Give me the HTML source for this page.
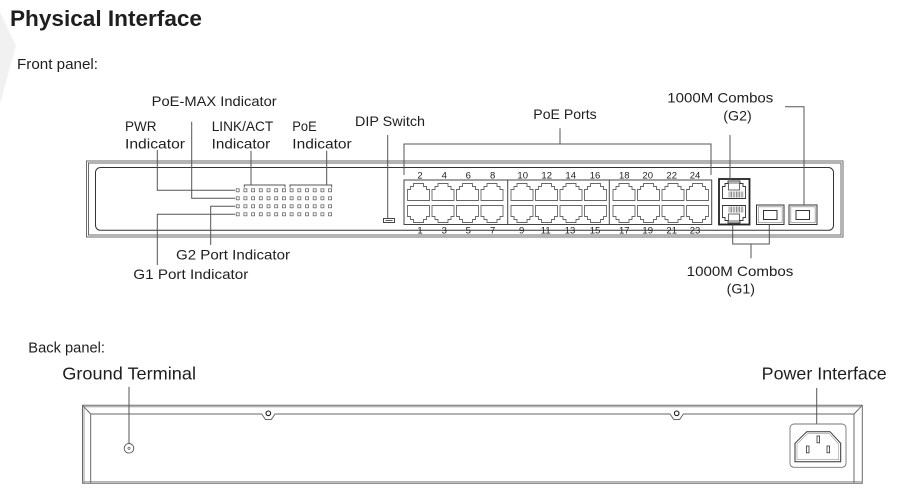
<!DOCTYPE html>
<html>
<head>
<meta charset="utf-8">
<style>
  html,body{margin:0;padding:0;background:#fff;}
  body{width:899px;height:491px;overflow:hidden;}
  svg{display:block;}
  .t{font-family:"Liberation Sans",Arial,sans-serif;fill:#1e1e1e;}
  .ln{stroke:#555;stroke-width:1;fill:none;}
  .ch{stroke:#6a6a6a;stroke-width:1;fill:none;}
</style>
</head>
<body>
<svg width="899" height="491" viewBox="0 0 899 491" xmlns="http://www.w3.org/2000/svg" xmlns:xlink="http://www.w3.org/1999/xlink">
  <defs>
    <g id="pt">
      <path d="M0.5,18.5 V7.5 H3.5 V4.5 H6.5 V1.5 H16.5 V4.5 H19.5 V7.5 H22.5 V18.5 Z" fill="#fff" stroke="#666" stroke-width="0.9"/>
    </g>
    <g id="pb">
      <path d="M0.5,0.5 H22.5 V11.5 H19.5 V14.5 H16.5 V17.5 H6.5 V14.5 H3.5 V11.5 H0.5 Z" fill="#fff" stroke="#666" stroke-width="0.9"/>
    </g>
    <g id="led">
      <rect x="-1.5" y="-1.5" width="3" height="3" fill="#fff" stroke="#666" stroke-width="0.8"/>
    </g>
    <pattern id="stripes" width="1.6" height="6" patternUnits="userSpaceOnUse">
      <rect x="0" y="0" width="0.8" height="6" fill="#777"/>
    </pattern>
  </defs>

  <!-- watermark -->
  <polygon points="0,12 16,46 7,78 0,104" fill="#f1f1f1"/>

  <!-- Title -->
  <text class="t" x="10" y="26" font-size="22.5" font-weight="bold" fill="#000" textLength="192" lengthAdjust="spacingAndGlyphs">Physical Interface</text>
  <text class="t" x="17" y="69" font-size="14.5" textLength="81" lengthAdjust="spacingAndGlyphs">Front panel:</text>

  <!-- ================= FRONT PANEL ================= -->
  <!-- chassis -->
  <rect class="ch" x="86.5" y="161" width="756.5" height="76"/>
  <rect class="ch" x="88.5" y="163" width="752.5" height="72" stroke="#999"/>
  <rect x="95.5" y="167.5" width="738" height="62.8" rx="5" ry="5" fill="none" stroke="#333" stroke-width="1"/>

  <!-- indicator labels -->
  <text class="t" x="151.7" y="106" font-size="14" textLength="125" lengthAdjust="spacingAndGlyphs">PoE-MAX Indicator</text>
  <text class="t" x="125" y="131" font-size="14" textLength="31.5" lengthAdjust="spacingAndGlyphs">PWR</text>
  <text class="t" x="125" y="148.5" font-size="14" textLength="60" lengthAdjust="spacingAndGlyphs">Indicator</text>
  <text class="t" x="211.7" y="131" font-size="14" textLength="61.6" lengthAdjust="spacingAndGlyphs">LINK/ACT</text>
  <text class="t" x="211.7" y="148.5" font-size="14" textLength="58.5" lengthAdjust="spacingAndGlyphs">Indicator</text>
  <text class="t" x="292.3" y="131" font-size="14" textLength="24.4" lengthAdjust="spacingAndGlyphs">PoE</text>
  <text class="t" x="292.3" y="148.5" font-size="14" textLength="59.4" lengthAdjust="spacingAndGlyphs">Indicator</text>
  <text class="t" x="355" y="126" font-size="14" textLength="70" lengthAdjust="spacingAndGlyphs">DIP Switch</text>
  <text class="t" x="533.3" y="119" font-size="14" textLength="63.4" lengthAdjust="spacingAndGlyphs">PoE Ports</text>
  <text class="t" x="667.3" y="102.7" font-size="14" textLength="106" lengthAdjust="spacingAndGlyphs">1000M Combos</text>
  <text class="t" x="723.3" y="120.5" font-size="14" textLength="28.4" lengthAdjust="spacingAndGlyphs">(G2)</text>
  <text class="t" x="176" y="259.5" font-size="14" textLength="114" lengthAdjust="spacingAndGlyphs">G2 Port Indicator</text>
  <text class="t" x="133.3" y="279" font-size="14" textLength="115" lengthAdjust="spacingAndGlyphs">G1 Port Indicator</text>
  <text class="t" x="686.7" y="276" font-size="14" textLength="106.6" lengthAdjust="spacingAndGlyphs">1000M Combos</text>
  <text class="t" x="726.7" y="293.5" font-size="14" textLength="28.3" lengthAdjust="spacingAndGlyphs">(G1)</text>

  <!-- indicator leader lines -->
  <path class="ln" d="M157.3,150 V190.3 H235"/>
  <path class="ln" d="M191.7,121.7 V198.3 H235"/>
  <path class="ln" d="M235,206.3 H210.7 V245"/>
  <path class="ln" d="M235,214.3 H157.3 V265"/>
  <path class="ln" d="M244.3,187.5 V185 H285 V187.5 M251,185 V150.7"/>
  <path class="ln" d="M290,187.5 V185 H331.7 V187.5 M326.7,185 V150.7"/>

  <!-- LEDs -->
  <g id="ledrow">
    <use href="#led" xlink:href="#led" x="237.7" y="190.3"/>
    <use href="#led" xlink:href="#led" x="245.4" y="190.3"/>
    <use href="#led" xlink:href="#led" x="253.1" y="190.3"/>
    <use href="#led" xlink:href="#led" x="260.8" y="190.3"/>
    <use href="#led" xlink:href="#led" x="268.5" y="190.3"/>
    <use href="#led" xlink:href="#led" x="276.2" y="190.3"/>
    <use href="#led" xlink:href="#led" x="283.9" y="190.3"/>
    <use href="#led" xlink:href="#led" x="291.6" y="190.3"/>
    <use href="#led" xlink:href="#led" x="299.3" y="190.3"/>
    <use href="#led" xlink:href="#led" x="307.0" y="190.3"/>
    <use href="#led" xlink:href="#led" x="314.7" y="190.3"/>
    <use href="#led" xlink:href="#led" x="322.4" y="190.3"/>
    <use href="#led" xlink:href="#led" x="330.1" y="190.3"/>
  </g>
  <use href="#ledrow" xlink:href="#ledrow" x="0" y="8"/>
  <use href="#ledrow" xlink:href="#ledrow" x="0" y="16"/>
  <use href="#ledrow" xlink:href="#ledrow" x="0" y="24"/>

  <!-- DIP switch -->
  <path class="ln" d="M387.7,135 V218.5"/>
  <rect x="383.5" y="218.5" width="11" height="4" fill="#fff" stroke="#333" stroke-width="0.9"/>
  <line x1="385.5" y1="220.5" x2="392.5" y2="220.5" stroke="#333" stroke-width="0.8"/>

  <!-- PoE Ports bracket -->
  <path class="ln" d="M560,128.3 V144 M404,175 V144 H711 V175"/>

  <!-- port block -->
  <rect x="404" y="180" width="307.7" height="44.5" fill="#fff" stroke="#444" stroke-width="1"/>
  <line x1="507.7" y1="180" x2="507.7" y2="224.5" stroke="#444" stroke-width="1"/>
  <line x1="609.3" y1="180" x2="609.3" y2="224.5" stroke="#444" stroke-width="1"/>

  <!-- ports top row -->
  <use href="#pt" xlink:href="#pt" x="407" y="182"/>
  <use href="#pt" xlink:href="#pt" x="431.5" y="182"/>
  <use href="#pt" xlink:href="#pt" x="456" y="182"/>
  <use href="#pt" xlink:href="#pt" x="480.5" y="182"/>
  <use href="#pt" xlink:href="#pt" x="510.5" y="182"/>
  <use href="#pt" xlink:href="#pt" x="535" y="182"/>
  <use href="#pt" xlink:href="#pt" x="559.5" y="182"/>
  <use href="#pt" xlink:href="#pt" x="584" y="182"/>
  <use href="#pt" xlink:href="#pt" x="612.5" y="182"/>
  <use href="#pt" xlink:href="#pt" x="637" y="182"/>
  <use href="#pt" xlink:href="#pt" x="661.5" y="182"/>
  <use href="#pt" xlink:href="#pt" x="686" y="182"/>
  <!-- ports bottom row -->
  <use href="#pb" xlink:href="#pb" x="407" y="205"/>
  <use href="#pb" xlink:href="#pb" x="431.5" y="205"/>
  <use href="#pb" xlink:href="#pb" x="456" y="205"/>
  <use href="#pb" xlink:href="#pb" x="480.5" y="205"/>
  <use href="#pb" xlink:href="#pb" x="510.5" y="205"/>
  <use href="#pb" xlink:href="#pb" x="535" y="205"/>
  <use href="#pb" xlink:href="#pb" x="559.5" y="205"/>
  <use href="#pb" xlink:href="#pb" x="584" y="205"/>
  <use href="#pb" xlink:href="#pb" x="612.5" y="205"/>
  <use href="#pb" xlink:href="#pb" x="637" y="205"/>
  <use href="#pb" xlink:href="#pb" x="661.5" y="205"/>
  <use href="#pb" xlink:href="#pb" x="686" y="205"/>

  <!-- port numbers -->
  <g class="t" font-size="9.5" text-anchor="middle">
    <text x="420" y="178.3">2</text>
    <text x="444.3" y="178.3">4</text>
    <text x="468.3" y="178.3">6</text>
    <text x="492.7" y="178.3">8</text>
    <text x="522.7" y="178.3">10</text>
    <text x="546.7" y="178.3">12</text>
    <text x="570.7" y="178.3">14</text>
    <text x="595" y="178.3">16</text>
    <text x="624.3" y="178.3">18</text>
    <text x="647.7" y="178.3">20</text>
    <text x="671.7" y="178.3">22</text>
    <text x="695" y="178.3">24</text>
    <text x="420" y="233.5">1</text>
    <text x="444.3" y="233.5">3</text>
    <text x="468.3" y="233.5">5</text>
    <text x="492.7" y="233.5">7</text>
    <text x="521.7" y="233.5">9</text>
    <text x="545.7" y="233.5">11</text>
    <text x="570" y="233.5">13</text>
    <text x="595" y="233.5">15</text>
    <text x="624.3" y="233.5">17</text>
    <text x="647.7" y="233.5">19</text>
    <text x="671.7" y="233.5">21</text>
    <text x="695" y="233.5">23</text>
  </g>

  <!-- combo RJ45 -->
  <rect x="719" y="179" width="30.5" height="45.5" fill="#fff" stroke="#222" stroke-width="1.8"/>
  <path d="M722.5,198.5 V186.5 H725 V183.5 H728 V181 H740 V183.5 H743 V186.5 H745.5 V198.5 Z" fill="#fff" stroke="#333" stroke-width="0.9"/>
  <rect x="728.5" y="183" width="11" height="7" fill="#fff" stroke="#444" stroke-width="0.8"/>
  <rect x="728.5" y="191.5" width="15" height="6" fill="url(#stripes)"/>
  <path d="M722.5,205.5 H745.5 V217.5 H743 V220.5 H740 V223 H728 V220.5 H725 V217.5 H722.5 Z" fill="#fff" stroke="#333" stroke-width="0.9"/>
  <rect x="728.5" y="214" width="11" height="7" fill="#fff" stroke="#444" stroke-width="0.8"/>
  <rect x="728.5" y="206.5" width="15" height="6" fill="url(#stripes)"/>

  <!-- SFPs -->
  <rect x="756.5" y="205" width="27.5" height="19.5" fill="#fff" stroke="#333" stroke-width="1"/>
  <rect x="758.3" y="206.8" width="23.9" height="15.9" fill="none" stroke="#888" stroke-width="0.7"/>
  <rect x="763.5" y="210.5" width="13.5" height="9" fill="#fff" stroke="#333" stroke-width="1"/>
  <rect x="789" y="205" width="28" height="19.5" fill="#fff" stroke="#333" stroke-width="1"/>
  <rect x="790.8" y="206.8" width="24.4" height="15.9" fill="none" stroke="#888" stroke-width="0.7"/>
  <rect x="796" y="210.5" width="13.5" height="9" fill="#fff" stroke="#333" stroke-width="1"/>

  <!-- combo leaders -->
  <path class="ln" d="M730,135 V180"/>
  <path class="ln" d="M785,106.7 H804 V205"/>
  <path class="ln" d="M732.7,224.5 V244 H769.3 V225 M751,244 V258.3"/>

  <!-- ================= BACK PANEL ================= -->
  <text class="t" x="28.3" y="352.7" font-size="14.5" textLength="76.7" lengthAdjust="spacingAndGlyphs">Back panel:</text>
  <text class="t" x="62.3" y="379.3" font-size="17.5" textLength="133.7" lengthAdjust="spacingAndGlyphs">Ground Terminal</text>
  <text class="t" x="761.7" y="379.3" font-size="17.5" textLength="125" lengthAdjust="spacingAndGlyphs">Power Interface</text>

  <!-- back chassis -->
  <path class="ch" d="M82.5,405.3 H862.3 V483.3 H82.5 Z"/>
  <path d="M84,406.8 H860.8" stroke="#999" stroke-width="1" fill="none"/>
  <path d="M84,406.8 V483" stroke="#999" stroke-width="1" fill="none"/>
  <path d="M82.5,481.8 H862.3" stroke="#999" stroke-width="1" fill="none"/>
  <path class="ch" d="M82.5,405.3 L90.7,414 V483.3"/>
  <path class="ch" d="M862.3,405.3 L854,414 V483.3"/>
  <path d="M90.7,414 H261.7 L265.5,419.5 H271.3 L275,414 H670 L673.8,419.5 H679.6 L683.4,414 H854" stroke="#666" stroke-width="1" fill="none"/>
  <circle cx="268.3" cy="413.3" r="2.3" fill="#fff" stroke="#222" stroke-width="1.1"/>
  <circle cx="676.7" cy="413.3" r="2.3" fill="#fff" stroke="#222" stroke-width="1.1"/>

  <!-- ground terminal -->
  <path class="ln" d="M129,386.7 V443.3"/>
  <circle cx="129" cy="448.3" r="4.8" fill="#fff" stroke="#555" stroke-width="0.9"/>
  <circle cx="129" cy="448.3" r="1.1" fill="none" stroke="#555" stroke-width="0.7"/>

  <!-- power interface -->
  <path class="ln" d="M816.7,388 V424"/>
  <rect x="790" y="424" width="56" height="43.3" rx="4" ry="4" fill="#fff" stroke="#777" stroke-width="0.9"/>
  <path d="M795,443.3 L806.7,431.7 H830 L840.7,443.3 V461.7 H795 Z" fill="#fff" stroke="#333" stroke-width="1"/>
  <path d="M797,444 L807.5,433.7 H829.2 L838.7,444 V459.7 H797 Z" fill="none" stroke="#999" stroke-width="0.6"/>
  <rect x="817" y="436" width="2.6" height="6.8" fill="#fff" stroke="#333" stroke-width="0.8"/>
  <rect x="806.4" y="446" width="2.6" height="6.8" fill="#fff" stroke="#333" stroke-width="0.8"/>
  <rect x="827" y="446" width="2.6" height="6.8" fill="#fff" stroke="#333" stroke-width="0.8"/>
</svg>
</body>
</html>
